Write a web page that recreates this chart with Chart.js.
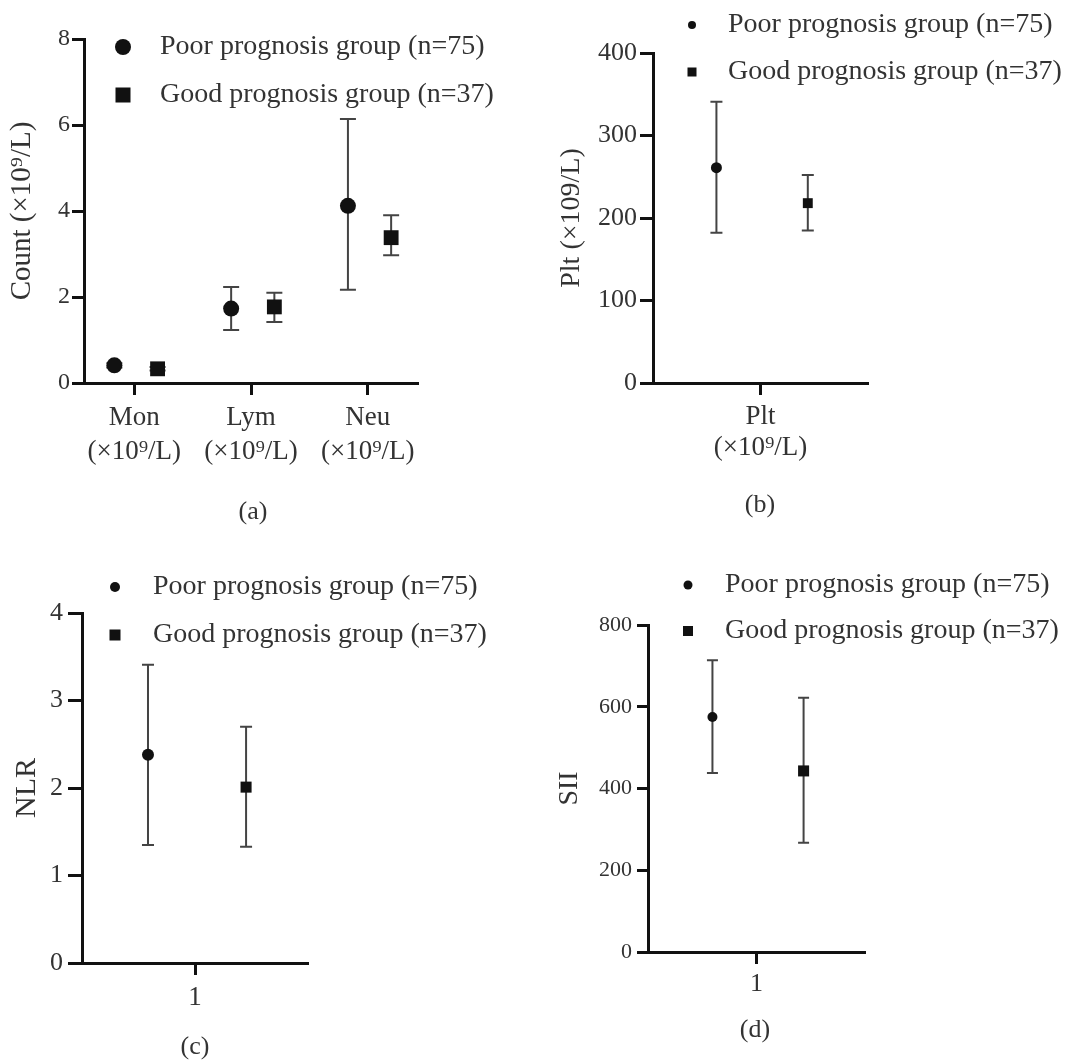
<!DOCTYPE html>
<html>
<head>
<meta charset="utf-8">
<script src="https://cdn.jsdelivr.net/npm/chart.js@4.4.1/dist/chart.umd.min.js"></script>
<style>
  html, body { margin: 0; padding: 0; background: #fff; }
  #wrap { position: relative; width: 1073px; height: 1062px; }
  #wrap canvas { position: absolute; left: 0; top: 0; }
</style>
</head>
<body>
<div id="wrap">
  <canvas id="chartA" width="1073" height="1062"></canvas>
  <canvas id="chartB" width="1073" height="1062"></canvas>
  <canvas id="chartC" width="1073" height="1062"></canvas>
  <canvas id="chartD" width="1073" height="1062"></canvas>
</div>
<script>
const groupLabels = ['Poor prognosis group (n=75)', 'Good prognosis group (n=37)'];

// (a) cell counts
const countCategories = [['Mon', '(×10⁹/L)'], ['Lym', '(×10⁹/L)'], ['Neu', '(×10⁹/L)']];
const countPoorMean = [0.41, 1.73, 4.12];
const countPoorLow = [0.36, 1.23, 2.17];
const countPoorHigh = [0.46, 2.23, 6.14];
const countGoodMean = [0.33, 1.77, 3.38];
const countGoodLow = [0.29, 1.42, 2.97];
const countGoodHigh = [0.37, 2.10, 3.90];

// (b) platelets
const pltCategories = [['Plt', '(×10⁹/L)']];
const pltPoorMean = [261];
const pltPoorLow = [182];
const pltPoorHigh = [341];
const pltGoodMean = [218];
const pltGoodLow = [185];
const pltGoodHigh = [252];

// (c) NLR
const nlrCategories = ['1'];
const nlrPoorMean = [2.38];
const nlrPoorLow = [1.35];
const nlrPoorHigh = [3.41];
const nlrGoodMean = [2.01];
const nlrGoodLow = [1.33];
const nlrGoodHigh = [2.70];

// (d) SII
const siiCategories = ['1'];
const siiPoorMean = [575];
const siiPoorLow = [438];
const siiPoorHigh = [714];
const siiGoodMean = [443];
const siiGoodLow = [267];
const siiGoodHigh = [622];

const SERIF = "'Liberation Serif', 'Times New Roman', serif";
const TEXT = '#333';
const AXIS = '#111';
const X_BOX = 120; // height reserved under each plot for the tick labels

function points(means, lows, highs, shift) {
    return means.map((m, i) => ({ x: i + 1 + shift, y: m, yMin: lows[i], yMax: highs[i] }));
}

// whiskers drawn under the markers
const errorBars = {
    id: 'errorBars',
    beforeDatasetsDraw(chart, args, opts) {
        const ctx = chart.ctx;
        const xs = chart.scales.x, ys = chart.scales.y;
        ctx.save();
        ctx.strokeStyle = '#444';
        ctx.lineWidth = 2;
        chart.data.datasets.forEach(ds => {
            ds.data.forEach(p => {
                const px = xs.getPixelForValue(p.x);
                const top = ys.getPixelForValue(p.yMax);
                const bot = ys.getPixelForValue(p.yMin);
                const half = opts.cap / 2;
                ctx.beginPath();
                ctx.moveTo(px, top); ctx.lineTo(px, bot);
                ctx.moveTo(px - half, top); ctx.lineTo(px + half, top);
                ctx.moveTo(px - half, bot); ctx.lineTo(px + half, bot);
                ctx.stroke();
            });
        });
        ctx.restore();
    }
};

// legend + panel caption
const panelDeco = {
    id: 'panelDeco',
    afterDraw(chart, args, o) {
        const ctx = chart.ctx;
        ctx.save();
        ctx.textBaseline = 'middle';
        chart.data.datasets.forEach((ds, i) => {
            const y = o.legendY[i];
            ctx.fillStyle = AXIS;
            if (ds.pointStyle === 'circle') {
                ctx.beginPath();
                ctx.arc(o.markerX, y, o.dot, 0, Math.PI * 2);
                ctx.fill();
            } else {
                ctx.fillRect(o.markerX - o.box / 2, y - o.box / 2, o.box, o.box);
            }
            ctx.fillStyle = TEXT;
            ctx.textAlign = 'left';
            ctx.font = '28px ' + SERIF;
            ctx.fillText(ds.label, o.textX, y);
        });
        ctx.textAlign = 'center';
        ctx.font = '26px ' + SERIF;
        ctx.fillText(o.caption, o.captionX, o.captionY);
        ctx.restore();
    }
};

function makePanel(id, p) {
    const area = p.area; // [left, top, right, bottom]
    new Chart(document.getElementById(id), {
        type: 'scatter',
        data: {
            datasets: [{
                label: groupLabels[0],
                data: points(p.poor[0], p.poor[1], p.poor[2], p.shift[0]),
                pointStyle: 'circle',
                pointRadius: p.poorRadius,
                backgroundColor: AXIS,
                borderColor: AXIS,
                borderWidth: 0
            }, {
                label: groupLabels[1],
                data: points(p.good[0], p.good[1], p.good[2], p.shift[1]),
                pointStyle: 'rect',
                pointRadius: p.goodRadius,
                backgroundColor: AXIS,
                borderColor: AXIS,
                borderWidth: 0
            }]
        },
        options: {
            responsive: false,
            animation: false,
            events: [],
            layout: {
                padding: {
                    left: p.titleLeft,
                    top: area[1],
                    right: 1073 - area[2],
                    bottom: 1062 - area[3] - X_BOX
                }
            },
            plugins: {
                legend: { display: false },
                tooltip: { enabled: false },
                errorBars: { cap: p.cap },
                panelDeco: p.deco
            },
            scales: {
                x: {
                    type: 'linear',
                    min: p.xRange[0],
                    max: p.xRange[1],
                    afterFit: s => { s.height = X_BOX; },
                    afterBuildTicks: s => { s.ticks = p.categories.map((c, i) => ({ value: i + 1 })); },
                    ticks: {
                        callback: v => p.categories[v - 1],
                        font: { family: SERIF, size: p.xFont, lineHeight: p.xLine },
                        color: TEXT,
                        padding: p.xPad,
                        maxRotation: 0,
                        autoSkip: false
                    },
                    grid: { drawOnChartArea: false, tickLength: 12, tickWidth: 3, tickColor: AXIS },
                    border: { color: AXIS, width: 3 }
                },
                y: {
                    min: p.yRange[0],
                    max: p.yRange[1],
                    afterFit: s => { s.width = area[0] - p.titleLeft; },
                    ticks: {
                        stepSize: p.yStep,
                        font: { family: SERIF, size: p.yFont },
                        color: TEXT,
                        padding: p.yPad
                    },
                    grid: { drawOnChartArea: false, tickLength: p.yTick, tickWidth: 3, tickColor: AXIS },
                    border: { color: AXIS, width: 3 },
                    title: {
                        display: true,
                        text: p.title,
                        font: { family: SERIF, size: p.titleFont, lineHeight: 1.2 },
                        color: TEXT,
                        padding: 0
                    }
                }
            }
        },
        plugins: [errorBars, panelDeco]
    });
}

makePanel('chartA', {
    area: [84, 39, 418, 383],
    categories: countCategories,
    poor: [countPoorMean, countPoorLow, countPoorHigh],
    good: [countGoodMean, countGoodLow, countGoodHigh],
    shift: [-0.17, 0.2],
    xRange: [0.57, 3.43],
    yRange: [0, 8], yStep: 2,
    poorRadius: 8, goodRadius: 10.5, cap: 16,
    xFont: 27, xLine: 34 / 27, xPad: 6,
    yFont: 24, yPad: 2, yTick: 12,
    title: 'Count (×10⁹/L)', titleFont: 29, titleLeft: 5,
    deco: { markerX: 123, legendY: [47, 95], dot: 8, box: 15, textX: 160,
            caption: '(a)', captionX: 253, captionY: 512 }
});

makePanel('chartB', {
    area: [653, 53, 868, 383],
    categories: pltCategories,
    poor: [pltPoorMean, pltPoorLow, pltPoorHigh],
    good: [pltGoodMean, pltGoodLow, pltGoodHigh],
    shift: [-0.205, 0.22],
    xRange: [0.5, 1.5],
    yRange: [0, 400], yStep: 100,
    poorRadius: 5.5, goodRadius: 7, cap: 12,
    xFont: 27, xLine: 31 / 27, xPad: 6,
    yFont: 26, yPad: 3, yTick: 13,
    title: 'Plt (×109/L)', titleFont: 28, titleLeft: 555,
    deco: { markerX: 692, legendY: [25, 72], dot: 4, box: 9, textX: 728,
            caption: '(b)', captionX: 760, captionY: 505 }
});

makePanel('chartC', {
    area: [82, 613, 308, 963],
    categories: nlrCategories,
    poor: [nlrPoorMean, nlrPoorLow, nlrPoorHigh],
    good: [nlrGoodMean, nlrGoodLow, nlrGoodHigh],
    shift: [-0.208, 0.226],
    xRange: [0.5, 1.5],
    yRange: [0, 4], yStep: 1,
    poorRadius: 6, goodRadius: 7.8, cap: 12,
    xFont: 27, xLine: 32 / 27, xPad: 7,
    yFont: 26, yPad: 5, yTick: 14,
    title: 'NLR', titleFont: 30, titleLeft: 9,
    deco: { markerX: 115, legendY: [587, 635], dot: 5, box: 11, textX: 153,
            caption: '(c)', captionX: 195, captionY: 1047 }
});

makePanel('chartD', {
    area: [648, 625, 865, 952],
    categories: siiCategories,
    poor: [siiPoorMean, siiPoorLow, siiPoorHigh],
    good: [siiGoodMean, siiGoodLow, siiGoodHigh],
    shift: [-0.203, 0.217],
    xRange: [0.5, 1.5],
    yRange: [0, 800], yStep: 200,
    poorRadius: 5, goodRadius: 7.8, cap: 11,
    xFont: 26, xLine: 31 / 26, xPad: 5,
    yFont: 22, yPad: 5, yTick: 11,
    title: 'SII', titleFont: 28, titleLeft: 553,
    deco: { markerX: 688, legendY: [585, 631], dot: 4.5, box: 10, textX: 725,
            caption: '(d)', captionX: 755, captionY: 1030 }
});
</script>
</body>
</html>
